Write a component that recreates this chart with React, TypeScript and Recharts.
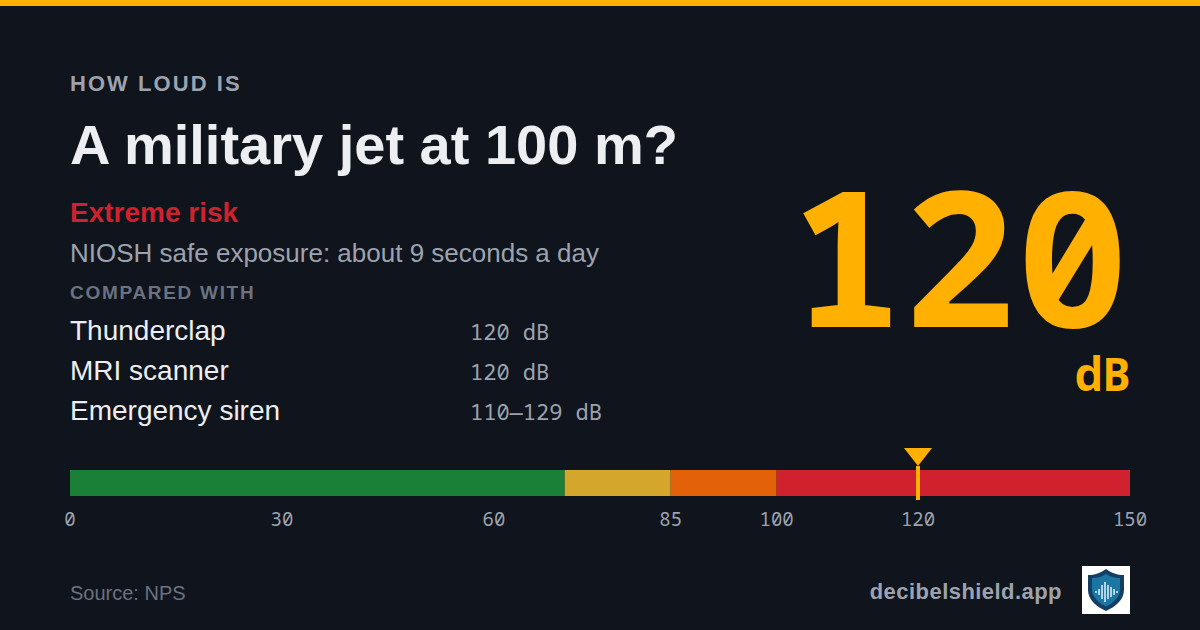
import React from "react";
import { BarChart, Bar, XAxis, YAxis, ReferenceLine, ReferenceDot } from "recharts";

const bandNames = ["safe", "moderate", "high", "extreme"];
const bandWidths = [70, 15, 15, 50];
const bandColors = ["#1a7f37", "#d4a72c", "#e36209", "#cf222e"];
const scaleTicks = [0, 30, 60, 85, 100, 120, 150];
const scaleMax = 150;
const currentDb = 120;
const comparisons = ["Thunderclap", "MRI scanner", "Emergency siren"];
const comparisonValues = ["120 dB", "120 dB", "110—129 dB"];

const row: Record<string, number | string> = { name: "dB" };
bandNames.forEach((n, i) => {
  row[n] = bandWidths[i];
});
const chartData = [row];

const SANS = '"Liberation Sans", Arial, sans-serif';
const MONO = '"Noto Sans Mono", "DejaVu Sans Mono", monospace';
const AMBER = "#ffb000";
const MUTED = "#9ca3af";
const DIM = "#6b7280";
const LIGHT = "#eceef2";
const BG = "#10141c";

function Txt(props: { x?: number; right?: number; y: number; size: number; lh?: number; color: string; weight?: number; spacing?: number; mono?: boolean; children: React.ReactNode }) {
  const { x, right, y, size, lh, color, weight = 400, spacing = 0, mono, children } = props;
  return (
    <div
      style={{
        position: "absolute",
        left: x,
        right,
        top: y,
        fontSize: size,
        lineHeight: `${lh ?? Math.round(size * 1.2)}px`,
        color,
        fontWeight: weight,
        letterSpacing: spacing,
        fontFamily: mono ? MONO : SANS,
        fontFeatureSettings: mono ? '"zero"' : undefined,
        whiteSpace: "nowrap",
      }}
    >
      {children}
    </div>
  );
}

const Marker = (p: any) => (
  <path d={`M${p.cx - 14},448 L${p.cx + 14},448 L${p.cx},466 Z`} fill={AMBER} />
);

const Needle = (p: any) => (
  <line x1={p.x1} x2={p.x2} y1={Math.min(p.y1, p.y2) - 4} y2={Math.max(p.y1, p.y2) + 4} stroke={AMBER} strokeWidth={4} />
);

export default function App() {
  return (
    <div style={{ position: "absolute", left: 0, top: 0, width: 1200, height: 630, background: BG, overflow: "hidden" }}>
      <div style={{ position: "absolute", left: 0, top: 0, width: 1200, height: 6, background: AMBER }} />
      <Txt x={70} y={71} size={22} weight={700} spacing={2.05} color={MUTED}>HOW LOUD IS</Txt>
      <Txt x={70} y={111} size={56} weight={700} color={LIGHT}>A military jet at 100 m?</Txt>
      <Txt x={70} y={196} size={28} weight={700} color="#cf222e">Extreme risk</Txt>
      <Txt x={70} y={238} size={26} color={MUTED}>NIOSH safe exposure: about 9 seconds a day</Txt>
      <Txt x={70} y={281} size={19} weight={700} spacing={1.7} color={DIM}>COMPARED WITH</Txt>
      {comparisons.map((c, i) => (
        <Txt key={c} x={70} y={314 + i * 40} size={28} color={LIGHT}>{c}</Txt>
      ))}
      {comparisonValues.map((c, i) => (
        <Txt key={i} x={470} y={318 + i * 40} size={22} mono color={MUTED}>{c}</Txt>
      ))}
      <Txt right={71} y={169} size={188} lh={170} weight={700} mono color={AMBER}>120</Txt>
      <Txt right={70} y={346} size={46} weight={700} mono color={AMBER}>dB</Txt>
      <Txt x={70} y={581} size={20} color={DIM}>Source: NPS</Txt>
      <Txt right={138} y={579} size={22} weight={700} spacing={0.45} color={MUTED}>decibelshield.app</Txt>

      <svg width={48} height={48} viewBox="0 0 48 48" style={{ position: "absolute", left: 1082, top: 566, background: "#fff" }}>
        <path d="M24 3 C30 7 35 9 42 9 V24 C42 34 33 41 24 45 C15 41 6 34 6 24 V9 C13 9 18 7 24 3 Z" fill="#123f63" />
        <path d="M24 8 C29 11 33 12 38 12 V24 C38 31 31 37 24 40.5 C17 37 10 31 10 24 V12 C15 12 19 11 24 8 Z" fill="#1b76a4" />
        <path d="M14 25 V27 M17 23 V29 M20 19 V33 M23 16 V36 M26 19 V33 M29 21 V31 M32 23 V29 M35 25 V27" stroke="#e8f4fa" strokeWidth={1.5} />
      </svg>

      <div style={{ position: "absolute", left: 0, top: 0 }}>
        <BarChart
          width={1200}
          height={630}
          data={chartData}
          layout="vertical"
          barCategoryGap={0}
          margin={{ top: 470, right: 70, bottom: 104, left: 70 }}
        >
          <XAxis
            type="number"
            domain={[0, scaleMax]}
            ticks={scaleTicks}
            interval={0}
            height={30}
            axisLine={false}
            tickLine={false}
            tickMargin={11}
            tick={{ fill: MUTED, fontSize: 19, fontFamily: MONO, style: { fontFeatureSettings: '"zero"' } }}
          />
          <YAxis type="category" dataKey="name" hide />
          {bandNames.map((n, i) => (
            <Bar key={n} dataKey={n} stackId="scale" fill={bandColors[i]} isAnimationActive={false} />
          ))}
          <ReferenceLine x={currentDb} shape={Needle} />
          <ReferenceDot x={currentDb} y="dB" shape={Marker} ifOverflow="visible" />
        </BarChart>
      </div>
    </div>
  );
}
